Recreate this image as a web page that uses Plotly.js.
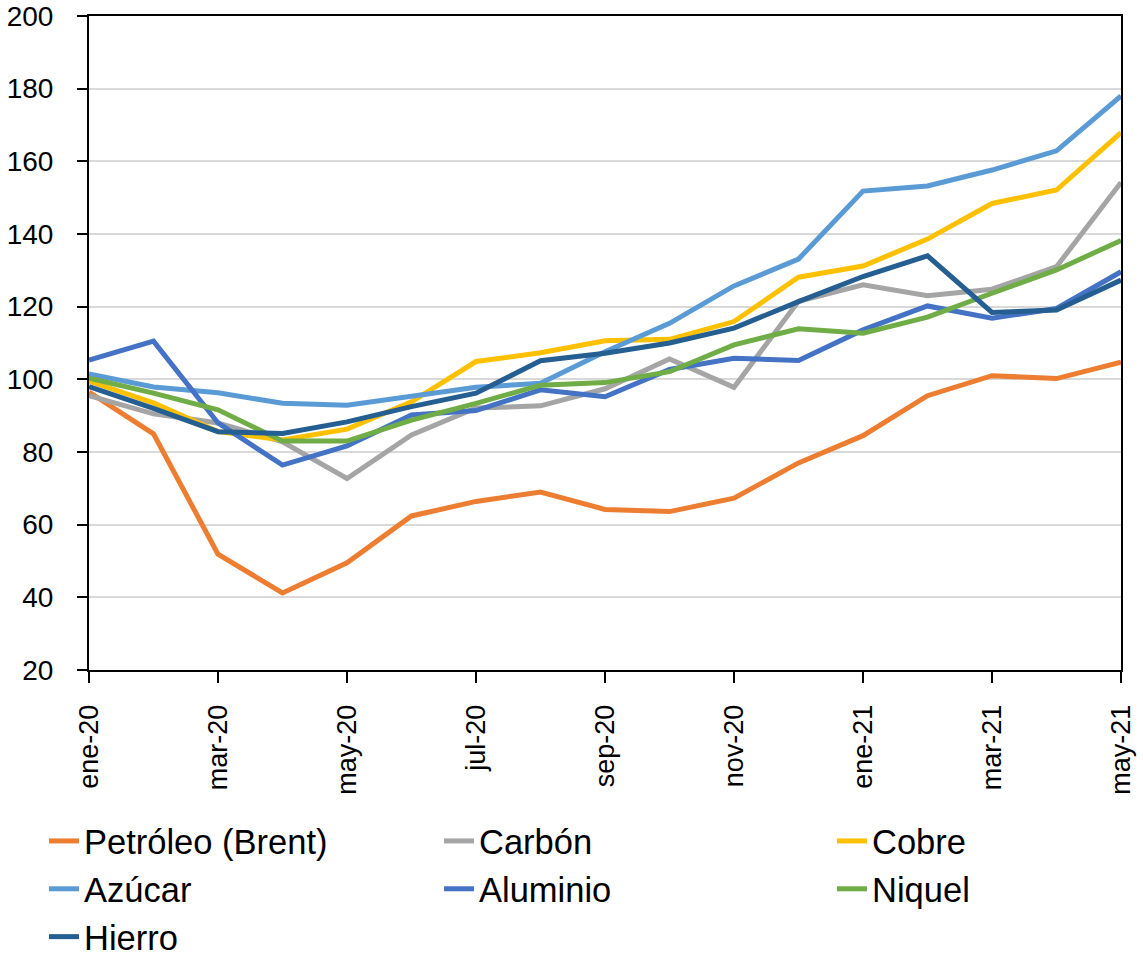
<!DOCTYPE html>
<html>
<head>
<meta charset="utf-8">
<script src="https://cdn.plot.ly/plotly-3.0.1.min.js"></script>
<style>
  html, body { margin: 0; padding: 0; background: #ffffff; }
  #chart { width: 1143px; height: 955px; }
</style>
</head>
<body>
<div id="chart"></div>
<script>
const months = ["ene-20","feb-20","mar-20","abr-20","may-20","jun-20","jul-20","ago-20","sep-20","oct-20","nov-20","dic-20","ene-21","feb-21","mar-21","abr-21","may-21"];
const tickMonths = ["ene-20","mar-20","may-20","jul-20","sep-20","nov-20","ene-21","mar-21","may-21"];

const seriesNames = ["Petróleo (Brent)","Carbón","Cobre","Azúcar","Aluminio","Niquel","Hierro"];
const petroleo = [96.5, 85, 51.9, 41.2, 49.5, 62.4, 66.4, 69, 64.2, 63.6, 67.3, 77, 84.5, 95.5, 101, 100.2, 104.7];
const carbon   = [95.5, 90.5, 88, 82.8, 72.7, 84.7, 92.1, 92.7, 97.4, 105.6, 97.8, 121.5, 126, 123, 124.8, 131, 154.2];
const cobre    = [99.5, 93.5, 85.6, 83.3, 86.3, 93.8, 104.9, 107.3, 110.6, 111, 115.9, 128.1, 131.2, 138.6, 148.4, 152.1, 167.9];
const azucar   = [101.5, 97.9, 96.3, 93.4, 92.9, 95.4, 97.8, 98.9, 107.6, 115.4, 125.7, 133.1, 151.8, 153.2, 157.6, 162.9, 178];
const aluminio = [105.3, 110.5, 88, 76.4, 81.7, 90.2, 91.4, 97.1, 95.2, 102.7, 105.8, 105.2, 113.6, 120.2, 116.8, 119.5, 129.6];
const niquel   = [100.3, 96.2, 91.6, 83, 83, 88.8, 93.4, 98.4, 99.1, 102.1, 109.5, 113.9, 112.7, 117.1, 123.7, 130.1, 138.2];
const hierro   = [98, 92, 85.6, 85.1, 88.3, 92.5, 96.2, 105.1, 107.2, 110, 114.1, 121.4, 128.3, 134, 118.4, 119.1, 127.3];

const seriesValues = [petroleo, carbon, cobre, azucar, aluminio, niquel, hierro];
const colors = ["#ED7D31","#A5A5A5","#FFC000","#5B9BD5","#4472C4","#70AD47","#255E91"];
// legend column for each series (3-column legend laid out row by row)
const legendIds = ["legend","legend2","legend3","legend","legend2","legend3","legend"];

const FONT = '"Liberation Sans", Arial, sans-serif';

const traces = seriesNames.map((name, i) => ({
  type: 'scatter',
  mode: 'lines',
  name: name,
  x: months,
  y: seriesValues[i],
  line: { color: colors[i], width: 5 },
  legend: legendIds[i],
  hoverinfo: 'skip'
}));

function legendAt(xPx) {
  return {
    orientation: 'v',
    xref: 'container',
    yref: 'container',
    x: xPx / 1143,
    y: 1 - 812 / 955,
    xanchor: 'left',
    yanchor: 'top',
    traceorder: 'normal',
    itemwidth: 30,
    tracegroupgap: 0,
    font: { family: FONT, size: 34.5, color: '#000000' },
    bgcolor: 'rgba(0,0,0,0)',
    borderwidth: 0
  };
}

const layout = {
  width: 1143,
  height: 955,
  paper_bgcolor: '#ffffff',
  plot_bgcolor: '#ffffff',
  margin: { l: 89, r: 22, t: 16, b: 285, pad: 0, autoexpand: false },
  font: { family: FONT, color: '#000000', size: 28 },
  showlegend: true,
  xaxis: {
    type: 'category',
    range: [0, months.length - 1],
    tickmode: 'array',
    tickvals: tickMonths,
    ticktext: tickMonths,
    tickangle: -90,
    ticks: 'outside',
    ticklen: 11,
    tickwidth: 2,
    tickcolor: '#000000',
    ticklabelstandoff: 11,
    showline: true,
    linecolor: '#000000',
    linewidth: 2,
    mirror: true,
    showgrid: false,
    zeroline: false,
    automargin: false,
    tickfont: { family: FONT, size: 27, color: '#000000' },
    fixedrange: true
  },
  yaxis: {
    range: [20, 200],
    dtick: 20,
    tick0: 20,
    ticks: 'outside',
    ticklen: 10,
    tickwidth: 2,
    tickcolor: '#000000',
    showline: true,
    linecolor: '#000000',
    linewidth: 2,
    mirror: true,
    showgrid: true,
    gridcolor: '#D9D9D9',
    gridwidth: 2,
    zeroline: false,
    automargin: false,
    ticklabelstandoff: 18,
    tickfont: { family: FONT, size: 28, color: '#000000' },
    fixedrange: true
  },
  legend: legendAt(44),
  legend2: legendAt(439),
  legend3: legendAt(832)
};

Plotly.newPlot('chart', traces, layout, { displayModeBar: false, staticPlot: true });
</script>
</body>
</html>
